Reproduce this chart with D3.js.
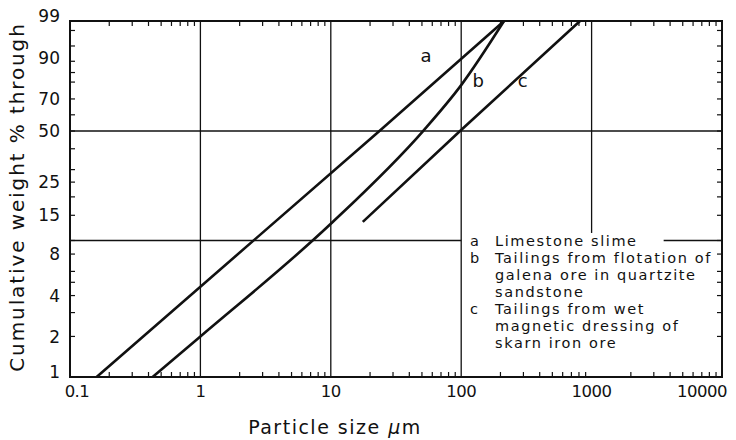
<!DOCTYPE html>
<html><head><meta charset="utf-8">
<script src="https://cdn.jsdelivr.net/npm/d3@7"></script>
<style>
body{margin:0;background:#fff}
svg{display:block}
text{font-family:"DejaVu Sans",sans-serif;fill:#111}
</style>
</head><body>
<svg id="chart" width="736" height="440"></svg>
<script>
// ---- data ----
const xTickValues = [0.1, 1, 10, 100, 1000, 10000];
const xTickLabels = ["0.1", "1", "10", "100", "1000", "10000"];
const yTickValues = [1, 2, 4, 8, 15, 25, 50, 70, 90, 99];
const yTickLabels = ["1", "2", "4", "8", "15", "25", "50", "70", "90", "99"];
const yMinorTicks = [3, 5, 6, 10, 20, 30, 40, 60, 80, 85, 95, 98];
const gridXValues = [1, 10, 100, 1000];
const gridYValues = [10, 50];
const seriesNames = ["a", "b", "c"];
const curveA = [[0.16, 1], [23.6, 50], [213, 99]];
const curveB = [[0.43, 1], [1, 2.0], [10, 13.1], [51, 50], [100, 78.3], [213, 99]];
const curveC = [[17.6, 13.5], [98, 50], [815, 99]];
const curveLabelPos = [[53.7, 92], [135, 80.5], [296, 80.5]];
const legendKeys = ["a", "b", "", "", "c", "", ""];
const legendTexts = ["Limestone slime", "Tailings from flotation of", "galena ore in quartzite", "sandstone",
                     "Tailings from wet", "magnetic dressing of", "skarn iron ore"];

// ---- scales ----
const svg = d3.select("#chart");
const L = 70, R = 722, T = 21, B = 377;
const rr = p => Math.log(-Math.log(1 - p / 100)); // Rosin-Rammler transform
const x = d3.scaleLog().domain([0.1, 10000]).range([L, R]);
const yLin = d3.scaleLinear().domain([rr(1), rr(99)]).range([B, T]);
const y = p => yLin(rr(p));

const ink = "#111";

// gridlines
const g = svg.append("g").attr("stroke", ink).attr("stroke-width", 1.3).attr("fill", "none");
gridXValues.forEach(v => {
  g.append("line").attr("x1", x(v)).attr("x2", x(v)).attr("y1", T)
   .attr("y2", v === 1000 ? y(11.3) : B);
});
g.append("line").attr("x1", L).attr("x2", R).attr("y1", y(50)).attr("y2", y(50));
g.append("line").attr("x1", L).attr("x2", x(100)).attr("y1", y(10)).attr("y2", y(10));

// minor ticks
const minorX = [];
for (let d = 0.1; d < 10000; d *= 10) for (let k = 2; k <= 9; k++) minorX.push(+(d * k).toPrecision(3));
const tk = svg.append("g").attr("stroke", ink).attr("stroke-width", 1.2);
const tl = 5;
minorX.forEach(v => {
  tk.append("line").attr("x1", x(v)).attr("x2", x(v)).attr("y1", B).attr("y2", B - tl);
  tk.append("line").attr("x1", x(v)).attr("x2", x(v)).attr("y1", T).attr("y2", T + tl);
});
yTickValues.concat(yMinorTicks).forEach(v => {
  if (v === 1 || v === 99) return;
  tk.append("line").attr("x1", L).attr("x2", L + tl).attr("y1", y(v)).attr("y2", y(v));
  tk.append("line").attr("x1", R).attr("x2", R - tl).attr("y1", y(v)).attr("y2", y(v));
});

// curves
const line = d3.line().x(d => x(d[0])).y(d => y(d[1])).curve(d3.curveMonotoneX);
[curveA, curveB, curveC].forEach(c => {
  svg.append("path").attr("d", line(c)).attr("fill", "none").attr("stroke", ink)
     .attr("stroke-width", 2.6).attr("stroke-linecap", "butt");
});
seriesNames.forEach((n, i) => {
  svg.append("text").attr("x", x(curveLabelPos[i][0])).attr("y", y(curveLabelPos[i][1]))
     .attr("text-anchor", "middle").attr("dy", "0.35em").attr("font-size", 18).text(n);
});

// legend
const lg = svg.append("g");
const lineH = 17, ly0 = y(10);
let firstEnd = 0;
legendTexts.forEach((t, i) => {
  const yy = ly0 + i * lineH;
  if (legendKeys[i]) lg.append("text").attr("x", 470).attr("y", yy).attr("dy", "0.35em")
      .attr("font-size", 14.5).text(legendKeys[i]);
  const tt = lg.append("text").attr("x", 495).attr("y", yy).attr("dy", "0.35em")
      .attr("font-size", 14.5).attr("letter-spacing", 1.6).text(t);
  if (i === 0) firstEnd = tt.node().getBBox().x + tt.node().getBBox().width;
});
svg.append("line").attr("x1", firstEnd + 26).attr("x2", R).attr("y1", y(10)).attr("y2", y(10))
   .attr("stroke", ink).attr("stroke-width", 1.3);

// frame
svg.append("rect").attr("x", L).attr("y", T).attr("width", R - L).attr("height", B - T)
   .attr("fill", "none").attr("stroke", ink).attr("stroke-width", 2);

// axis labels
xTickValues.forEach((v, i) => {
  let xx = x(v);
  if (i === 0) xx += 7;
  if (i === xTickValues.length - 1) xx -= 20;
  svg.append("text").attr("x", xx).attr("y", 397).attr("text-anchor", "middle")
     .attr("font-size", 16.5).attr("letter-spacing", -0.5).text(xTickLabels[i]);
});
yTickValues.forEach((v, i) => {
  let yy = y(v);
  if (v === 99) yy -= 5;
  if (v === 1) yy -= 5;
  if (v === 90) yy -= 3;
  svg.append("text").attr("x", 60).attr("y", yy).attr("dy", "0.36em").attr("text-anchor", "end")
     .attr("font-size", 17).text(yTickLabels[i]);
});

const xl = svg.append("text").attr("x", 335).attr("y", 434).attr("text-anchor", "middle")
   .attr("font-size", 19).attr("letter-spacing", 1.5);
xl.append("tspan").text("Particle size  ");
xl.append("tspan").attr("font-style", "italic").text("\u03bc");
xl.append("tspan").text("m");

svg.append("text").attr("transform", "translate(24,197) rotate(-90)").attr("text-anchor", "middle")
   .attr("font-size", 20).attr("letter-spacing", 1.9).text("Cumulative weight % through");
</script>
</body></html>
